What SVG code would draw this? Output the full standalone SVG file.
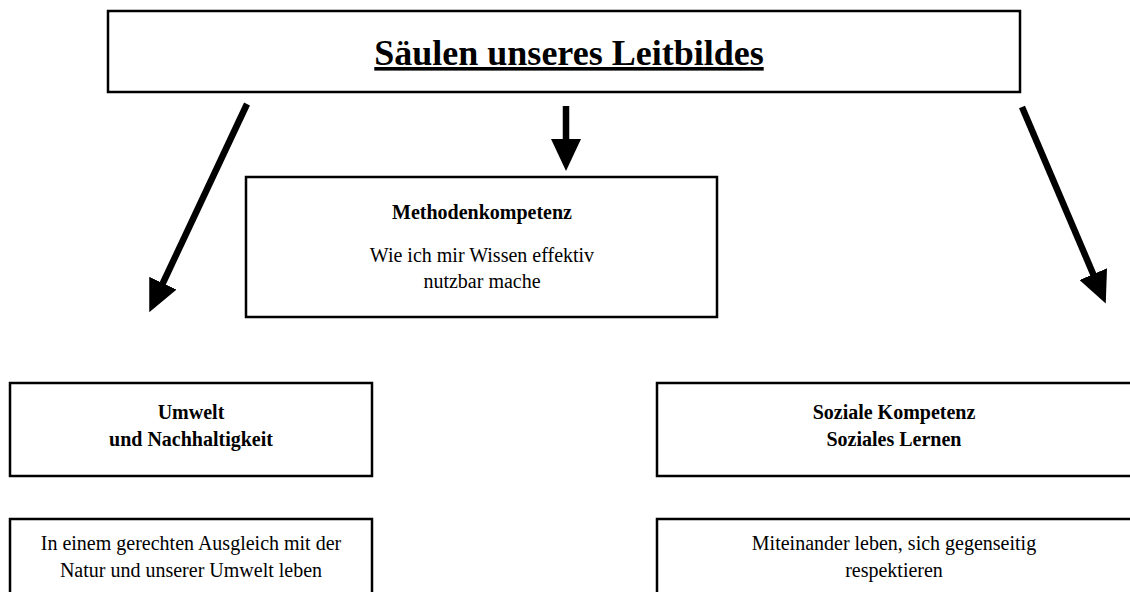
<svg xmlns="http://www.w3.org/2000/svg" width="1130" height="592" viewBox="0 0 1130 592">
<style>
.box{fill:#fff;stroke:#000;stroke-width:2.5}
.t{font-family:"Liberation Serif","Times New Roman",serif;font-size:20px;fill:#000;text-anchor:middle}
.b{font-weight:bold}
.title{font-size:36px;font-weight:bold;text-decoration:underline}
.arr{stroke:#000;stroke-width:6.5;fill:none}
</style>
<defs>
<marker id="ah" markerUnits="userSpaceOnUse" markerWidth="32" markerHeight="30" viewBox="0 0 32 30" refX="2" refY="15" orient="auto">
<path d="M0,0 L32,15 L0,30 z" fill="#000"/>
</marker>
</defs>
<rect width="1130" height="592" fill="#fff"/>
<g id="connectors">
<line class="arr" x1="247" y1="104" x2="162" y2="285" marker-end="url(#ah)"/>
<line class="arr" x1="566" y1="106" x2="566" y2="141" marker-end="url(#ah)"/>
<line class="arr" x1="1022" y1="107" x2="1094" y2="276" marker-end="url(#ah)"/>
</g>
<g id="title">
<rect class="box" x="108" y="11" width="912" height="81"/>
<text class="t title" x="569" y="65">Säulen unseres Leitbildes</text>
</g>
<g id="methoden">
<rect class="box" x="246" y="177" width="471" height="140"/>
<text class="t b" x="482" y="219">Methodenkompetenz</text>
<text class="t" x="482" y="262">Wie ich mir Wissen effektiv</text>
<text class="t" x="482" y="288">nutzbar mache</text>
</g>
<g id="umwelt">
<rect class="box" x="10" y="383" width="362" height="93"/>
<text class="t b" x="191" y="419">Umwelt</text>
<text class="t b" x="191" y="446">und Nachhaltigkeit</text>
</g>
<g id="umwelt-text">
<rect class="box" x="10" y="519" width="362" height="90"/>
<text class="t" x="191" y="550">In einem gerechten Ausgleich mit der</text>
<text class="t" x="191" y="577">Natur und unserer Umwelt leben</text>
</g>
<g id="sozial">
<rect class="box" x="657" y="383" width="490" height="93"/>
<text class="t b" x="894" y="419">Soziale Kompetenz</text>
<text class="t b" x="894" y="446">Soziales Lernen</text>
</g>
<g id="sozial-text">
<rect class="box" x="657" y="519" width="490" height="90"/>
<text class="t" x="894" y="550">Miteinander leben, sich gegenseitig</text>
<text class="t" x="894" y="577">respektieren</text>
</g>
</svg>
